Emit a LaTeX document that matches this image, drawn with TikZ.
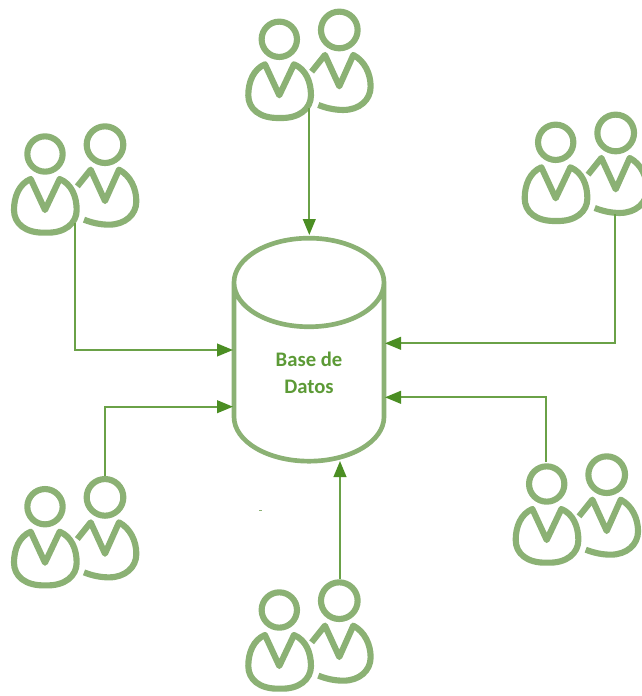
\documentclass[tikz,border=0pt]{standalone}
\usepackage{fontspec}
\setmainfont{Carlito}
\usetikzlibrary{shapes.geometric,arrows.meta}
\definecolor{iconcol}{HTML}{8BB174}
\definecolor{linecol}{HTML}{6AA147}
\definecolor{tipcol}{HTML}{4B8E23}
\definecolor{textcol}{HTML}{5C9A36}
\tikzset{
  people/.pic={
    \begin{scope}[x=0.25pt,y=-0.25pt,draw=iconcol,line width=4.6pt,line join=round]
      \draw (0,0) circle[radius=13.25pt];
      \draw (180,-28) circle[radius=13.75pt];
      \draw (-43,75) -- (0,168) -- (44,75)
        .. controls (80,90) and (95,128) .. (95,168)
        .. controls (95,208) and (60,238) .. (2,236)
        .. controls (-60,238) and (-93,208) .. (-93,168)
        .. controls (-93,128) and (-78,90) .. (-43,75) -- cycle;
      \draw (97,97) -- (137,47) -- (180,141) -- (222,47)
        .. controls (256,65) and (274,103) .. (274,142)
        .. controls (274,182) and (240,212) .. (192,212)
        .. controls (165,212) and (140,206) .. (117,197);
    \end{scope}
  },
  dbshape/.style={cylinder,shape border rotate=90,aspect=1.33,draw=iconcol,line width=3.5pt,
    minimum width=112.5pt,minimum height=167.25pt,outer sep=0pt,inner sep=0pt,
    align=center,text=textcol,font=\bfseries\fontsize{15.5}{20}\selectfont},
  link/.style={draw=linecol,line width=1.5pt,-{Triangle[length=12pt,width=9.5pt,color=tipcol]}},
}
\begin{document}
\begin{tikzpicture}[x=0.75pt,y=-0.75pt]
\useasboundingbox (0,0) rectangle (642,696);
\pic at (279.3,39.3) {people};
\pic at (45,154) {people};
\pic at (45,506.7) {people};
\pic at (555.7,142.3) {people};
\pic at (546.7,484) {people};
\pic at (279.3,610) {people};
\node[dbshape] (db) at (309,373) {Base de\\Datos};
\fill[iconcol] (258.5,509.5) rectangle (261.5,511);
\coordinate (ptop) at (309.3,108);
\coordinate (pleft) at (74.5,223);
\coordinate (plowleft) at (105,476);
\coordinate (pright) at (615.3,214);
\coordinate (plowright) at (546,462);
\coordinate (pbottom) at (340,579);
\coordinate (etop) at (309.3,235);
\coordinate (eleft) at (233,350);
\coordinate (elowleft) at (233,406.7);
\coordinate (eright) at (385,343.3);
\coordinate (elowright) at (385,397.3);
\coordinate (ebottom) at (340,461);
\draw[link] (ptop) -- (etop);
\draw[link] (pleft) |- (eleft);
\draw[link] (plowleft) |- (elowleft);
\draw[link] (pright) |- (eright);
\draw[link] (plowright) |- (elowright);
\draw[link] (pbottom) -- (ebottom);
\end{tikzpicture}
\end{document}
